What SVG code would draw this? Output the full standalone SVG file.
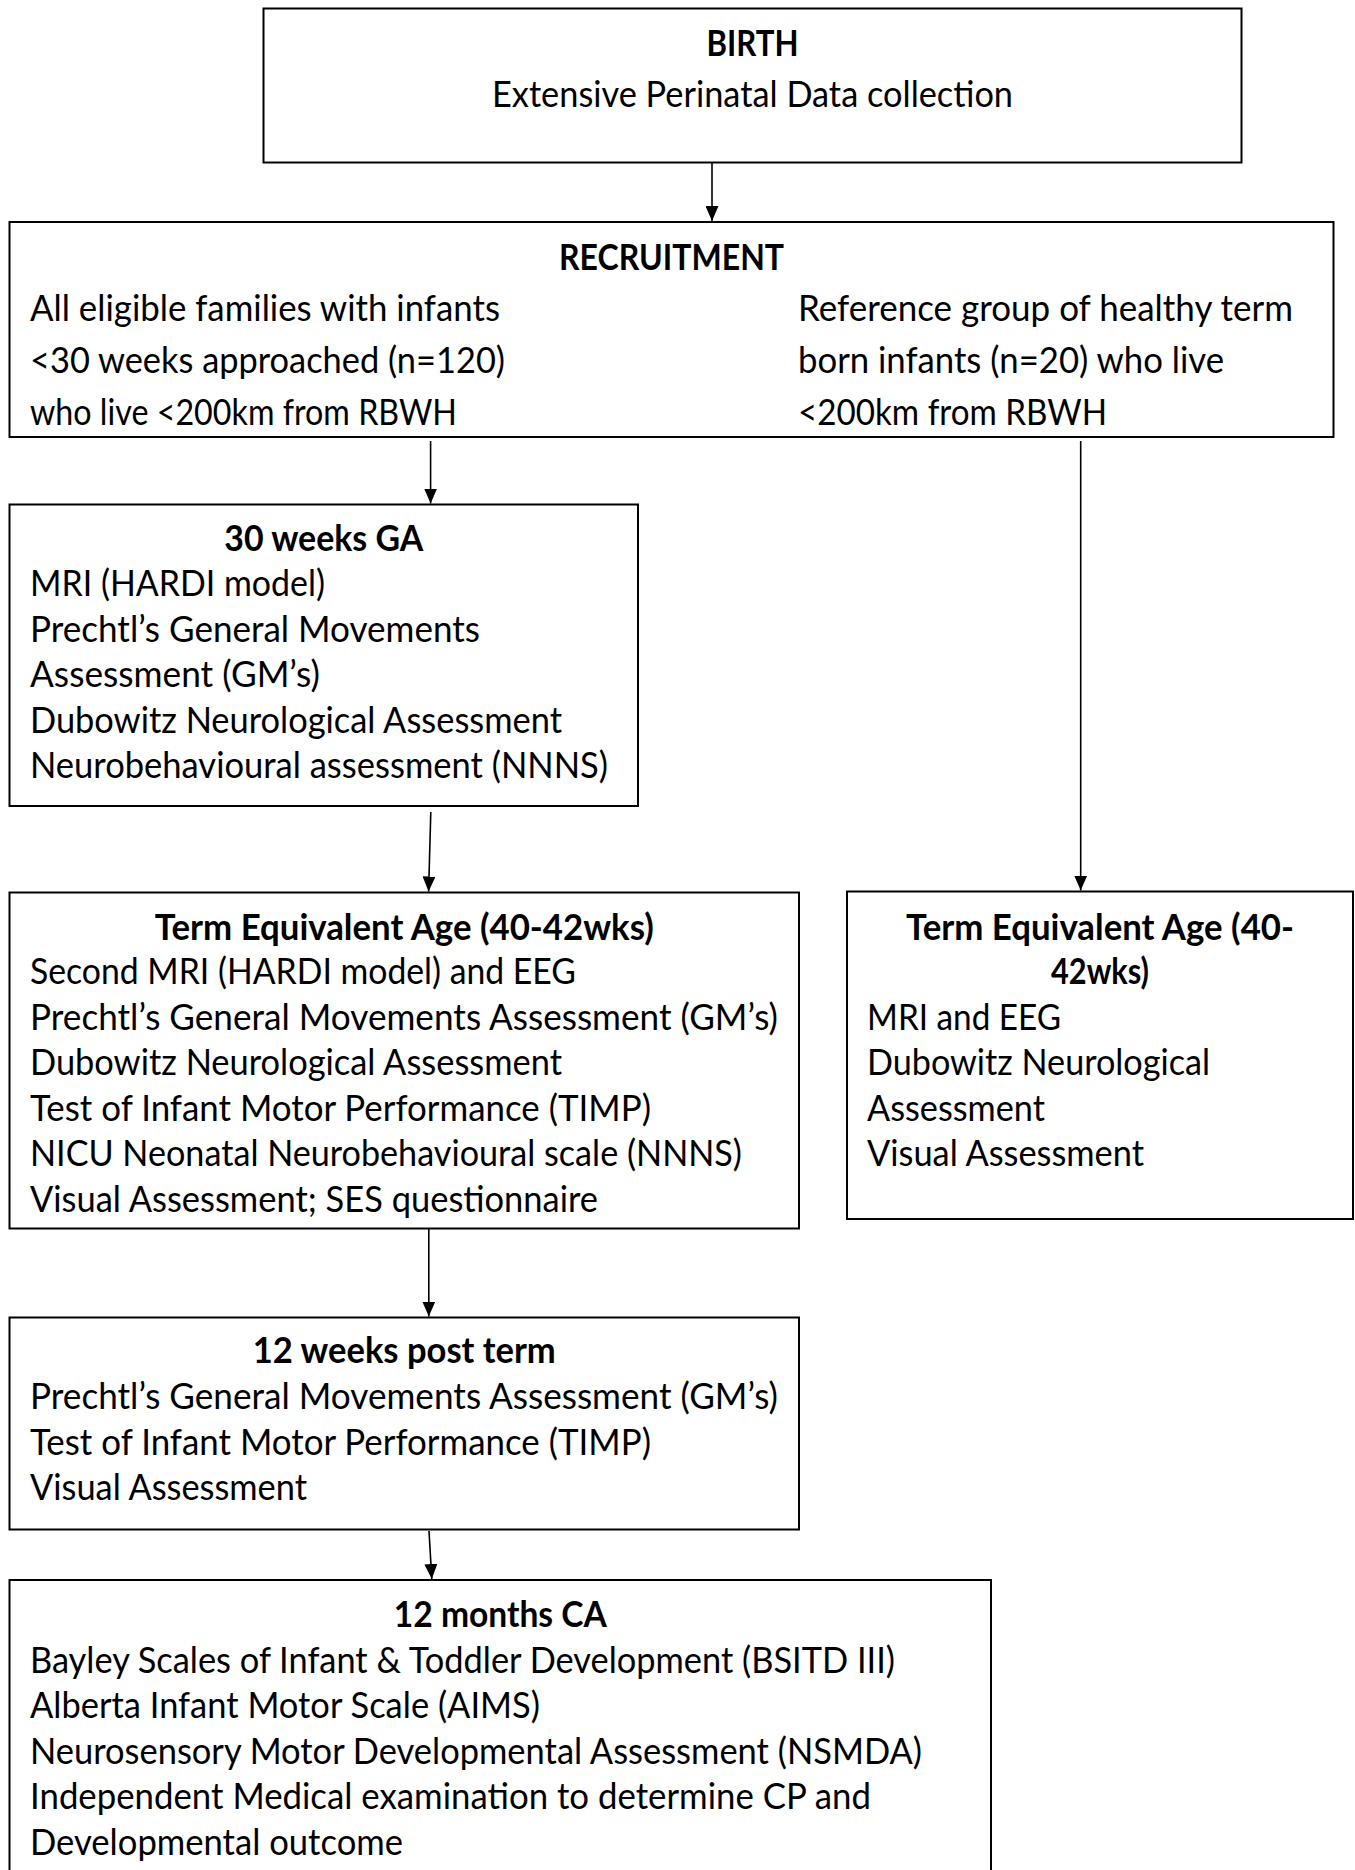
<svg xmlns="http://www.w3.org/2000/svg" width="1355" height="1870" viewBox="0 0 1355 1870">
<style>
.box{fill:#fff;stroke:#000;stroke-width:2}
text{font-family:Lato,"Liberation Sans",sans-serif;font-size:36px;fill:#000}
.t{font-weight:bold;text-anchor:middle}
.c{text-anchor:middle}
.conn line{stroke:#000;stroke-width:1.6;marker-end:url(#ah)}
</style>
<defs>
<marker id="ah" markerUnits="userSpaceOnUse" markerWidth="16" markerHeight="13" refX="15" refY="6.5" orient="auto"><path d="M0,0 L15,6.5 L0,13 z" fill="#000"/></marker>
</defs>
<rect width="1355" height="1870" fill="#fff"/>
<g id="birth">
<rect class="box" x="263.5" y="8.5" width="978" height="154"/>
<text class="t" x="752.5" y="56" textLength="92" lengthAdjust="spacingAndGlyphs">BIRTH</text>
<text class="c" x="752.5" y="107" textLength="521" lengthAdjust="spacingAndGlyphs">Extensive Perinatal Data collection</text>
</g>
<g id="recruitment">
<rect class="box" x="9.5" y="222" width="1324" height="215"/>
<text class="t" x="671.5" y="270" textLength="225" lengthAdjust="spacingAndGlyphs">RECRUITMENT</text>
<text x="30" y="321" textLength="470" lengthAdjust="spacingAndGlyphs">All eligible families with infants</text>
<text x="30" y="373" textLength="475" lengthAdjust="spacingAndGlyphs">&lt;30 weeks approached (n=120)</text>
<text x="30" y="425" textLength="427" lengthAdjust="spacingAndGlyphs">who live &lt;200km from RBWH</text>
<text x="798" y="321" textLength="495" lengthAdjust="spacingAndGlyphs">Reference group of healthy term</text>
<text x="798" y="373" textLength="426" lengthAdjust="spacingAndGlyphs">born infants (n=20) who live</text>
<text x="798" y="425" textLength="309" lengthAdjust="spacingAndGlyphs">&lt;200km from RBWH</text>
</g>
<g id="ga30">
<rect class="box" x="9.5" y="504.5" width="628.5" height="301.5"/>
<text class="t" x="323.8" y="551" textLength="199" lengthAdjust="spacingAndGlyphs">30 weeks GA</text>
<text x="30" y="596" textLength="295" lengthAdjust="spacingAndGlyphs">MRI (HARDI model)</text>
<text x="30" y="641.6" textLength="450" lengthAdjust="spacingAndGlyphs">Prechtl’s General Movements</text>
<text x="30" y="687.2" textLength="290" lengthAdjust="spacingAndGlyphs">Assessment (GM’s)</text>
<text x="30" y="732.8" textLength="532" lengthAdjust="spacingAndGlyphs">Dubowitz Neurological Assessment</text>
<text x="30" y="778.4" textLength="578" lengthAdjust="spacingAndGlyphs">Neurobehavioural assessment (NNNS)</text>
</g>
<g id="tea-preterm">
<rect class="box" x="9.5" y="892.5" width="789.5" height="336"/>
<text class="t" x="404.3" y="940" textLength="499" lengthAdjust="spacingAndGlyphs">Term Equivalent Age (40-42wks)</text>
<text x="30" y="984" textLength="546" lengthAdjust="spacingAndGlyphs">Second MRI (HARDI model) and EEG</text>
<text x="30" y="1029.6" textLength="748" lengthAdjust="spacingAndGlyphs">Prechtl’s General Movements Assessment (GM’s)</text>
<text x="30" y="1075.2" textLength="532" lengthAdjust="spacingAndGlyphs">Dubowitz Neurological Assessment</text>
<text x="30" y="1120.8" textLength="621" lengthAdjust="spacingAndGlyphs">Test of Infant Motor Performance (TIMP)</text>
<text x="30" y="1166.4" textLength="712" lengthAdjust="spacingAndGlyphs">NICU Neonatal Neurobehavioural scale (NNNS)</text>
<text x="30" y="1212" textLength="568" lengthAdjust="spacingAndGlyphs">Visual Assessment; SES questionnaire</text>
</g>
<g id="tea-term">
<rect class="box" x="847" y="891.5" width="506" height="327.5"/>
<text class="t" x="1100" y="940" textLength="388" lengthAdjust="spacingAndGlyphs">Term Equivalent Age (40-</text>
<text class="t" x="1100" y="984" textLength="98" lengthAdjust="spacingAndGlyphs">42wks)</text>
<text x="867" y="1029.6" textLength="194" lengthAdjust="spacingAndGlyphs">MRI and EEG</text>
<text x="867" y="1075.2" textLength="343" lengthAdjust="spacingAndGlyphs">Dubowitz Neurological</text>
<text x="867" y="1120.8" textLength="178" lengthAdjust="spacingAndGlyphs">Assessment</text>
<text x="867" y="1166.4" textLength="277" lengthAdjust="spacingAndGlyphs">Visual Assessment</text>
</g>
<g id="wk12">
<rect class="box" x="9.5" y="1317.5" width="789.5" height="212"/>
<text class="t" x="404.3" y="1363.4" textLength="303" lengthAdjust="spacingAndGlyphs">12 weeks post term</text>
<text x="30" y="1409" textLength="748" lengthAdjust="spacingAndGlyphs">Prechtl’s General Movements Assessment (GM’s)</text>
<text x="30" y="1454.6" textLength="621" lengthAdjust="spacingAndGlyphs">Test of Infant Motor Performance (TIMP)</text>
<text x="30" y="1500.2" textLength="277" lengthAdjust="spacingAndGlyphs">Visual Assessment</text>
</g>
<g id="mo12">
<rect class="box" x="9.5" y="1580" width="981.5" height="320"/>
<text class="t" x="500.3" y="1627" textLength="213" lengthAdjust="spacingAndGlyphs">12 months CA</text>
<text x="30" y="1672.6" textLength="865" lengthAdjust="spacingAndGlyphs">Bayley Scales of Infant &amp; Toddler Development (BSITD III)</text>
<text x="30" y="1718.2" textLength="510" lengthAdjust="spacingAndGlyphs">Alberta Infant Motor Scale (AIMS)</text>
<text x="30" y="1763.8" textLength="892" lengthAdjust="spacingAndGlyphs">Neurosensory Motor Developmental Assessment (NSMDA)</text>
<text x="30" y="1809.4" textLength="841" lengthAdjust="spacingAndGlyphs">Independent Medical examination to determine CP and</text>
<text x="30" y="1855" textLength="373" lengthAdjust="spacingAndGlyphs">Developmental outcome</text>
</g>
<g id="connectors" class="conn">
<line x1="712" y1="163" x2="712" y2="221"/>
<line x1="430.6" y1="441" x2="430.6" y2="503.5"/>
<line x1="1080.7" y1="441" x2="1080.7" y2="890.5"/>
<line x1="430.8" y1="812" x2="428.6" y2="891.5"/>
<line x1="428.8" y1="1229" x2="428.8" y2="1316.5"/>
<line x1="429" y1="1531" x2="431.8" y2="1579"/>
</g>
</svg>
